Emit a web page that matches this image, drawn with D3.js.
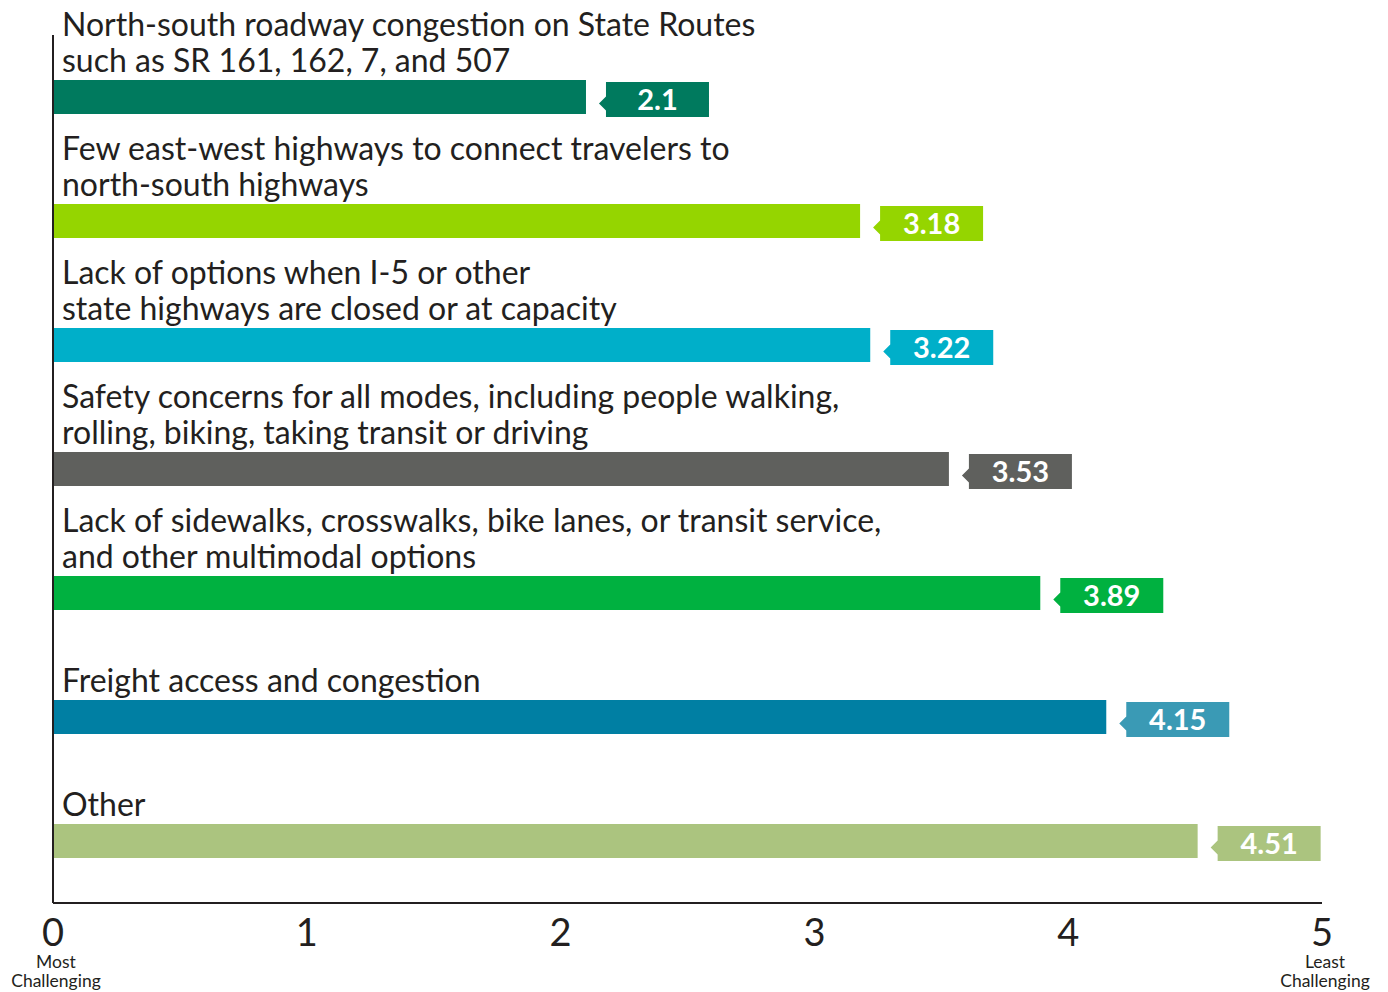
<!DOCTYPE html>
<html>
<head>
<meta charset="utf-8">
<script src="https://cdn.jsdelivr.net/npm/d3@7.9.0/dist/d3.min.js"></script>
<style>
  body { margin: 0; background: #fff; }
  svg { font-family: Lato, "Open Sans", sans-serif; }
</style>
</head>
<body>
<svg id="chart" width="1388" height="992"></svg>
<script>
// data
const labels = [
  ['North-south roadway congestion on State Routes', 'such as SR 161, 162, 7, and 507'],
  ['Few east-west highways to connect travelers to', 'north-south highways'],
  ['Lack of options when I-5 or other', 'state highways are closed or at capacity'],
  ['Safety concerns for all modes, including people walking,', 'rolling, biking, taking transit or driving'],
  ['Lack of sidewalks, crosswalks, bike lanes, or transit service,', 'and other multimodal options'],
  ['Freight access and congestion'],
  ['Other']
];
const values = [2.1, 3.18, 3.22, 3.53, 3.89, 4.15, 4.51];
const valueText = ['2.1', '3.18', '3.22', '3.53', '3.89', '4.15', '4.51'];
const barColors = ['#007a5e', '#95d500', '#00afc9', '#5f605d', '#00b140', '#007fa3', '#abc47f'];
const tagColors = ['#007a5e', '#95d500', '#00afc9', '#5f605d', '#00b140', '#3a9ab5', '#abc47f'];
const ticks = [0, 1, 2, 3, 4, 5];

const svg = d3.select('#chart');

const x = d3.scaleLinear().domain([0, 5]).range([53, 1322]);
// one band of 124px per category, bar sits at the bottom of it
const y = d3.scaleBand().domain(d3.range(values.length)).range([-10, -10 + 124 * 7]);
const barH = 34;
const barTop = (i) => y(i) + 90;

// bars
svg.selectAll('rect.bar')
  .data(values)
  .join('rect')
  .attr('class', 'bar')
  .attr('x', x(0))
  .attr('y', (d, i) => barTop(i))
  .attr('width', d => x(d) - x(0))
  .attr('height', barH)
  .attr('fill', (d, i) => barColors[i]);

// category labels
labels.forEach((lines, i) => {
  const t = svg.append('text')
    .attr('x', 62)
    .attr('font-size', 32)
    .attr('fill', '#231f20');
  lines.forEach((line, j) => {
    t.append('tspan')
      .attr('x', 62)
      .attr('y', barTop(i) - 8 - (lines.length - 1 - j) * 36)
      .text(line);
  });
});

// value tags with a small pointer on the left
const tagW = 103, tagH = 35, notch = 7;
values.forEach((v, i) => {
  const x0 = x(v) + 20;
  const y0 = barTop(i) + 2;
  const cy = y0 + tagH / 2 + 4;
  svg.append('path')
    .attr('d', `M${x0},${y0} L${x0 + tagW},${y0} L${x0 + tagW},${y0 + tagH} L${x0},${y0 + tagH}
      L${x0},${cy + 7} L${x0 - notch},${cy} L${x0},${cy - 7} Z`)
    .attr('fill', tagColors[i]);
  svg.append('text')
    .attr('x', x0 + tagW / 2)
    .attr('y', y0 + tagH / 2 + 10)
    .attr('text-anchor', 'middle')
    .attr('font-size', 29)
    .attr('font-weight', 'bold')
    .attr('fill', '#fff')
    .text(valueText[i]);
});

// axes lines
svg.append('line')
  .attr('x1', x(0)).attr('x2', x(0))
  .attr('y1', 35).attr('y2', 903)
  .attr('stroke', '#231f20').attr('stroke-width', 2);
svg.append('line')
  .attr('x1', x(0)).attr('x2', x(5))
  .attr('y1', 903).attr('y2', 903)
  .attr('stroke', '#231f20').attr('stroke-width', 2);

// tick labels
svg.selectAll('text.tick')
  .data(ticks)
  .join('text')
  .attr('class', 'tick')
  .attr('x', d => x(d))
  .attr('y', 946)
  .attr('text-anchor', 'middle')
  .attr('font-size', 38)
  .attr('fill', '#231f20')
  .text(d => d);

const endNotes = [
  { v: 0, lines: ['Most', 'Challenging'] },
  { v: 5, lines: ['Least', 'Challenging'] }
];
endNotes.forEach(n => {
  n.lines.forEach((line, j) => {
    svg.append('text')
      .attr('x', x(n.v) + 3)
      .attr('y', 968 + j * 19)
      .attr('text-anchor', 'middle')
      .attr('font-size', 17.5)
      .attr('fill', '#231f20')
      .text(line);
  });
});
</script>
</body>
</html>
